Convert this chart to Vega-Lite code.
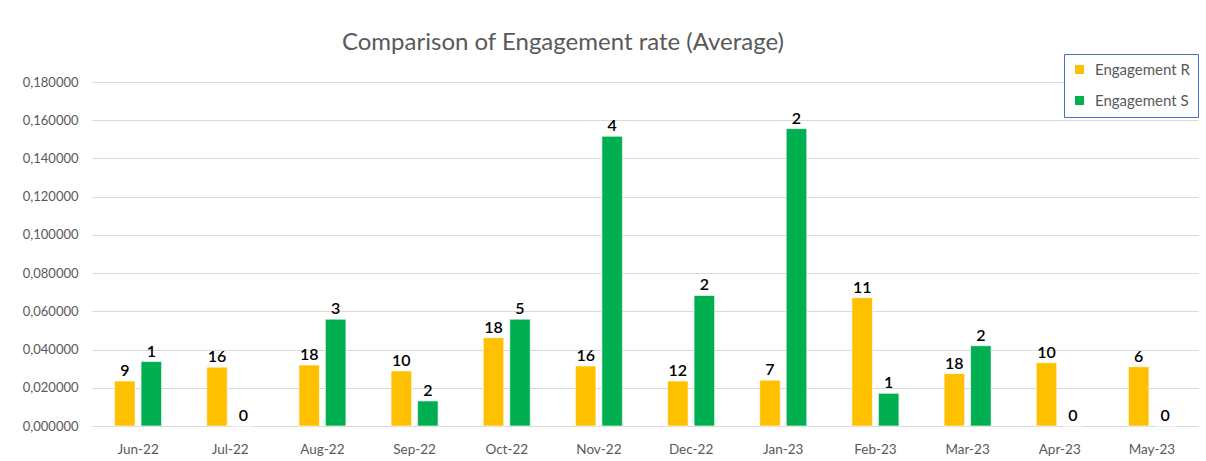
{
  "$schema": "https://vega.github.io/schema/vega-lite/v6.json",
  "width": 1106,
  "height": 344,
  "autosize": {"type": "none"},
  "padding": {"left": 92, "top": 82, "right": 8, "bottom": 35},
  "background": "white",
  "title": {
    "text": "Comparison of Engagement rate (Average)",
    "anchor": "middle",
    "dx": -82,
    "dy": 23,
    "offset": 22,
    "font": "Lato",
    "fontSize": 24,
    "fontWeight": "normal",
    "color": "#595959"
  },
  "config": {
    "view": {"stroke": null},
    "font": "Lato"
  },
  "data": {
    "values": [
      {"month": "Jun-22", "series": "Engagement R", "value": 0.0235, "count": 9},
      {"month": "Jun-22", "series": "Engagement S", "value": 0.0337, "count": 1},
      {"month": "Jul-22", "series": "Engagement R", "value": 0.0308, "count": 16},
      {"month": "Jul-22", "series": "Engagement S", "value": 0, "count": 0},
      {"month": "Aug-22", "series": "Engagement R", "value": 0.0319, "count": 18},
      {"month": "Aug-22", "series": "Engagement S", "value": 0.0559, "count": 3},
      {"month": "Sep-22", "series": "Engagement R", "value": 0.0288, "count": 10},
      {"month": "Sep-22", "series": "Engagement S", "value": 0.0131, "count": 2},
      {"month": "Oct-22", "series": "Engagement R", "value": 0.0462, "count": 18},
      {"month": "Oct-22", "series": "Engagement S", "value": 0.0559, "count": 5},
      {"month": "Nov-22", "series": "Engagement R", "value": 0.0314, "count": 16},
      {"month": "Nov-22", "series": "Engagement S", "value": 0.1516, "count": 4},
      {"month": "Dec-22", "series": "Engagement R", "value": 0.0235, "count": 12},
      {"month": "Dec-22", "series": "Engagement S", "value": 0.0683, "count": 2},
      {"month": "Jan-23", "series": "Engagement R", "value": 0.0240, "count": 7},
      {"month": "Jan-23", "series": "Engagement S", "value": 0.1556, "count": 2},
      {"month": "Feb-23", "series": "Engagement R", "value": 0.0671, "count": 11},
      {"month": "Feb-23", "series": "Engagement S", "value": 0.0171, "count": 1},
      {"month": "Mar-23", "series": "Engagement R", "value": 0.0274, "count": 18},
      {"month": "Mar-23", "series": "Engagement S", "value": 0.0420, "count": 2},
      {"month": "Apr-23", "series": "Engagement R", "value": 0.0331, "count": 10},
      {"month": "Apr-23", "series": "Engagement S", "value": 0, "count": 0},
      {"month": "May-23", "series": "Engagement R", "value": 0.0310, "count": 6},
      {"month": "May-23", "series": "Engagement S", "value": 0, "count": 0}
    ]
  },
  "encoding": {
    "x": {
      "field": "month",
      "type": "nominal",
      "sort": null,
      "scale": {"paddingInner": 0.49, "paddingOuter": 0.245},
      "axis": {
        "title": null,
        "labelAngle": 0,
        "labelFont": "Lato",
        "labelFontSize": 13.5,
        "labelColor": "#595959",
        "labelPadding": 16,
        "ticks": false,
        "domain": true,
        "domainColor": "#d9d9d9",
        "domainWidth": 1
      }
    },
    "xOffset": {
      "field": "series",
      "type": "nominal",
      "scale": {"paddingInner": 0.226, "paddingOuter": 0}
    },
    "y": {
      "field": "value",
      "type": "quantitative",
      "scale": {"domain": [0, 0.18], "nice": false},
      "axis": {
        "title": null,
        "values": [0, 0.02, 0.04, 0.06, 0.08, 0.1, 0.12, 0.14, 0.16, 0.18],
        "labelExpr": "replace(format(datum.value, '.6f'), '.', ',')",
        "labelFont": "Lato",
        "labelFontSize": 13,
        "labelColor": "#595959",
        "labelPadding": 14,
        "ticks": false,
        "domain": false,
        "grid": true,
        "gridColor": "#d9d9d9",
        "gridWidth": 1.2
      }
    }
  },
  "layer": [
    {
      "mark": {"type": "bar", "stroke": "#ffffff", "strokeWidth": 0.6},
      "encoding": {
        "color": {
          "field": "series",
          "type": "nominal",
          "scale": {"domain": ["Engagement R", "Engagement S"], "range": ["#FFC000", "#00B050"]},
          "legend": {
            "title": null,
            "orient": "none",
            "legendX": 972,
            "legendY": -28,
            "direction": "vertical",
            "symbolType": "square",
            "symbolSize": 81,
            "symbolStrokeWidth": 0,
            "labelFont": "Lato",
            "labelFontSize": 15,
            "labelColor": "#595959",
            "rowPadding": 15,
            "padding": 8,
            "strokeColor": "#4472C4",
            "fillColor": "white",
            "labelOffset": 8
          }
        }
      }
    },
    {
      "mark": {"type": "text", "baseline": "bottom", "dy": -2, "fontSize": 16, "fontWeight": 600, "font": "Lato", "color": "#000000"},
      "encoding": {
        "text": {"field": "count", "type": "quantitative"}
      }
    }
  ]
}
